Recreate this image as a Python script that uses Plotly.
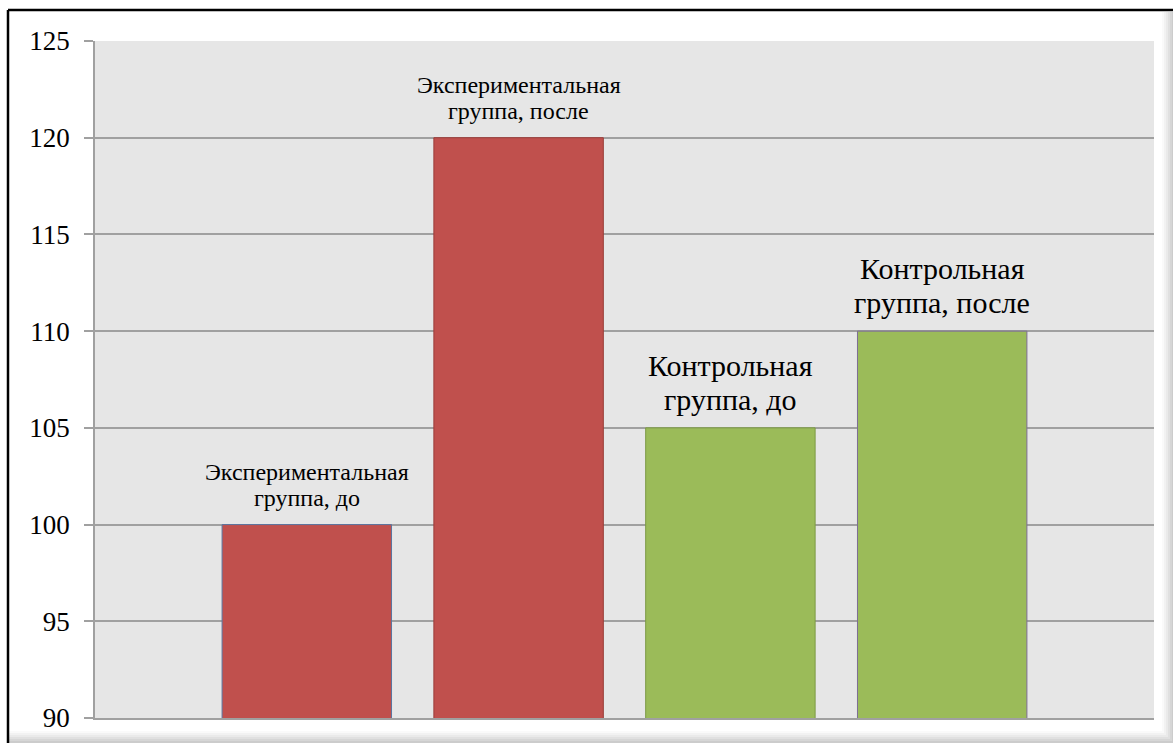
import plotly.graph_objects as go

# Bar data: four groups, before/after measurements
categories = ["Экспериментальная<br>группа, до", "Экспериментальная<br>группа, после",
              "Контрольная<br>группа, до", "Контрольная<br>группа, после"]
positions = [1, 2, 3, 4]
values = [100, 120, 105, 110]
fill_colors = ["#C0504D", "#C0504D", "#9BBB59", "#9BBB59"]
edge_colors = ["#5A75A0", "#9A3B38", "#7C9A45", "#7D6E93"]
label_sizes = [24, 24, 30, 30]
# vertical gap (px) between bar top and each caption line's box bottom
line_gaps = [[38, 12], [38, 12], [44, 10], [44, 10]]

y_ticks = [90, 95, 100, 105, 110, 115, 120, 125]

SERIF = "Liberation Serif, Times New Roman, serif"
W, H = 1173, 745
PL, PR, PT, PB = 95, 1154, 41, 720

fig = go.Figure()
fig.add_trace(go.Bar(
    x=positions, y=values, base=0,
    width=0.8,
    marker=dict(color=fill_colors, line=dict(color=edge_colors, width=1)),
    hoverinfo="skip",
))

# Category captions above each bar, one annotation per line for tight leading
for xp, v, txt, fs, gaps in zip(positions, values, categories, label_sizes, line_gaps):
    for line, gap in zip(txt.split("<br>"), gaps):
        fig.add_annotation(
            x=xp, y=v, xref="x", yref="y", text=line, showarrow=False,
            yanchor="bottom", yshift=gap,
            font=dict(family=SERIF, size=fs, color="#000000"),
        )


def px_x(p):
    return (p - PL) / (PR - PL)


def px_y(p):
    return (PB - p) / (PB - PT)


# Frame: black top and left rules, soft shadow on the right and bottom
fig.add_shape(type="line", xref="paper", yref="paper",
              x0=px_x(8), x1=px_x(1173), y0=px_y(10), y1=px_y(10),
              line=dict(color="black", width=2.5))
fig.add_shape(type="line", xref="paper", yref="paper",
              x0=px_x(8), x1=px_x(8), y0=px_y(10), y1=px_y(745),
              line=dict(color="black", width=2.5))

shadow = ["#FAFAFA", "#F2F2F2", "#EAEAEA", "#E0E0E0", "#D6D6D6", "#CCCCCC"]
for i, c in enumerate(shadow):
    x0 = 1162 + i * 2
    fig.add_shape(type="rect", xref="paper", yref="paper",
                  x0=px_x(x0), x1=px_x(x0 + 2), y0=px_y(12), y1=px_y(745),
                  line=dict(width=0), fillcolor=c, layer="below")
    y0 = 733 + i * 2
    fig.add_shape(type="rect", xref="paper", yref="paper",
                  x0=px_x(9), x1=px_x(1173), y0=px_y(y0), y1=px_y(y0 + 2),
                  line=dict(width=0), fillcolor=c, layer="below")

fig.update_layout(
    width=W, height=H,
    margin=dict(l=PL, r=W - PR, t=PT, b=H - PB),
    paper_bgcolor="white",
    plot_bgcolor="#E6E6E6",
    showlegend=False,
    font=dict(family=SERIF),
    xaxis=dict(range=[0, 5], showticklabels=False, ticks="", showgrid=False,
               zeroline=False, showline=True, linecolor="#A0A0A0", linewidth=1.5,
               fixedrange=True),
    yaxis=dict(range=[90, 125], tickvals=y_ticks, ticks="outside", ticklen=9,
               tickcolor="#A0A0A0", tickwidth=1.5,
               showgrid=True, gridcolor="#A0A0A0", gridwidth=1.5,
               zeroline=False, showline=True, linecolor="#A0A0A0", linewidth=1.5,
               tickfont=dict(family=SERIF, size=27, color="#000000"),
               ticklabelstandoff=9, fixedrange=True),
)

fig.write_html("out.html", config={"displayModeBar": False})
